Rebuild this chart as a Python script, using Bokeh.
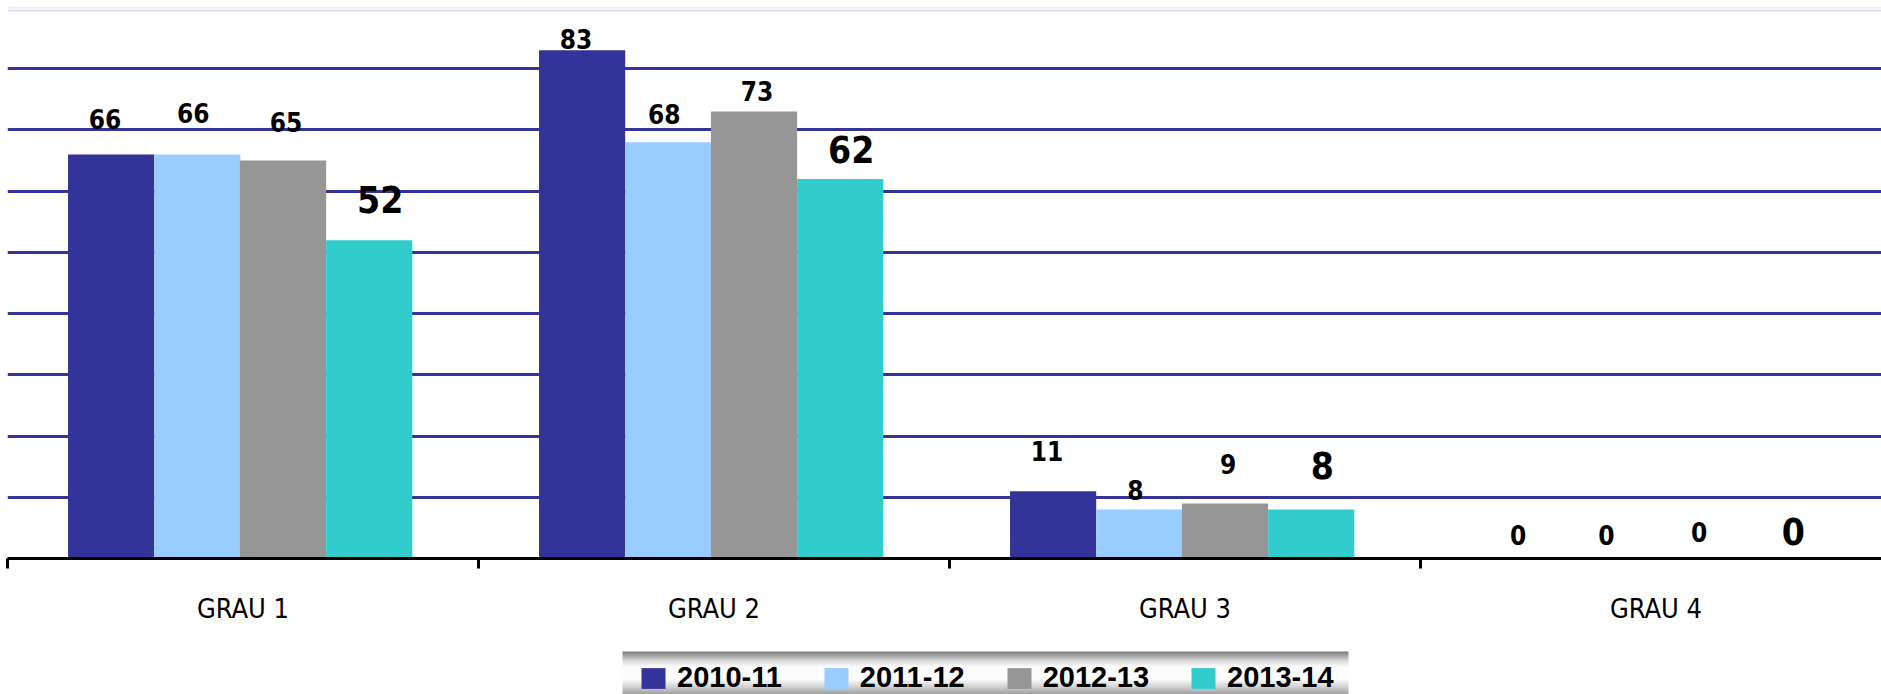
import numpy as np
from bokeh.plotting import figure
from bokeh.models import Range1d, FixedTicker, ColumnDataSource, Span, Legend, LegendItem, Grid
from bokeh.layouts import column
from bokeh.embed import file_html
from bokeh.resources import INLINE
from bokeh.core.properties import value

# ---------------- data ----------------
categories = ["GRAU 1", "GRAU 2", "GRAU 3", "GRAU 4"]
seasons = ["2010-11", "2011-12", "2012-13", "2013-14"]
v_2010_11 = [66, 83, 11, 0]
v_2011_12 = [66, 68, 8, 0]
v_2012_13 = [65, 73, 9, 0]
v_2013_14 = [52, 62, 8, 0]
series_values = [v_2010_11, v_2011_12, v_2012_13, v_2013_14]
y_max = 90
grid_ticks = [10, 20, 30, 40, 50, 60, 70, 80]

# ---------------- style ----------------
colors = ["#333399", "#99ccff", "#969696", "#33cccc"]
bar_width = 0.183
bar_offsets = [-0.28, -0.097, 0.085, 0.268]
label_dx = [-6, -4, 3, 11]
label_dy = [[26, 1, 30, 14], [32, 18, 10, 14], [29, 11, 30, 17], [27, 15, 30, 13]]
label_px = [26, 26, 26, 37]
NARROW = "'DejaVu Sans Condensed', 'Liberation Sans Narrow', Roboto, sans-serif"
TOTAL_W = 1881
LEFT = 7
W = TOTAL_W - LEFT
cat_px = 471

p = figure(frame_width=W, frame_height=551,
           x_range=Range1d(0, W / cat_px), y_range=Range1d(0, y_max),
           output_backend="svg", toolbar_location=None,
           y_axis_location=None,
           min_border_left=LEFT, min_border_right=0, min_border_top=7, min_border_bottom=85,
           outline_line_color=None, background_fill_color="white")
p.xgrid.visible = False
p.add_layout(Grid(dimension=1, ticker=FixedTicker(ticks=grid_ticks),
                  grid_line_color="#333399", grid_line_width=3))
p.add_layout(Span(location=y_max, dimension="width", line_color="#d6d3ea", line_width=1.5))
p.add_layout(Span(location=y_max - 0.5, dimension="width", line_color="#d6d3ea", line_width=1.5))

cat_x = [i + 0.5 for i in range(len(categories))]
for si, vals in enumerate(series_values):
    xs = [c + bar_offsets[si] for c in cat_x]
    fs = label_px[si]
    src = ColumnDataSource(dict(x=xs, top=vals, txt=[str(v) for v in vals],
                                dy=[-(d + 0.38 * fs) for d in label_dy[si]]))
    p.vbar(x="x", top="top", width=bar_width, bottom=0, source=src,
           fill_color=colors[si], line_color=None)
    p.text(x="x", y="top", text="txt", source=src, x_offset=label_dx[si], y_offset="dy",
           text_align="center", text_baseline="alphabetic",
           text_font=value(NARROW), text_font_style="bold",
           text_font_size=f"{fs}px", text_color="black")

ax = p.xaxis[0]
ax.ticker = FixedTicker(ticks=cat_x, minor_ticks=list(range(len(categories) + 1)))
ax.major_label_overrides = {c: name for c, name in zip(cat_x, categories)}
ax.major_tick_line_color = None
ax.major_tick_out = 0
ax.major_tick_in = 0
ax.minor_tick_in = 0
ax.minor_tick_out = 10
ax.minor_tick_line_width = 3
ax.minor_tick_line_color = "black"
ax.axis_line_width = 3
ax.axis_line_color = "black"
ax.major_label_standoff = 24
ax.major_label_text_font = NARROW
ax.major_label_text_font_size = "27px"
ax.major_label_text_color = "black"

# ---------------- legend strip ----------------
LH = 694 - (7 + 551 + 85)
lf = figure(frame_width=TOTAL_W, frame_height=LH, x_range=Range1d(0, TOTAL_W), y_range=Range1d(0, LH),
            output_backend="svg", toolbar_location=None,
            x_axis_location=None, y_axis_location=None,
            min_border_left=0, min_border_right=0, min_border_top=0, min_border_bottom=0,
            outline_line_color=None)
lf.grid.visible = False
rows = 43
t = np.linspace(0, 1, rows)
g = np.interp(t, [0, 0.2, 0.35, 0.65, 0.85, 1.0], [128, 215, 252, 252, 205, 160])[::-1].astype(np.uint32)
col = (255 << 24) | (g << 16) | (g << 8) | g
img = np.repeat(col[:, None], 2, axis=1).astype(np.uint32)
lf.image_rgba(image=[img], x=615, y=0, dw=726, dh=43)

leg_items = []
for si, s in enumerate(seasons):
    rr = lf.rect(x=[-100], y=[-100], width=1, height=1, fill_color=colors[si], line_color=None)
    leg_items.append(LegendItem(label=s, renderers=[rr]))
legend = Legend(items=leg_items, orientation="horizontal", location=(638, 0),
                glyph_width=30, glyph_height=26, label_standoff=9, spacing=39,
                padding=0, margin=0, background_fill_alpha=0, border_line_color=None,
                label_text_font="Liberation Sans", label_text_font_style="bold",
                label_text_font_size="29px", label_text_color="black")
lf.add_layout(legend)

layout = column(p, lf, spacing=0)
open("out.html", "w").write(file_html(layout, INLINE))
